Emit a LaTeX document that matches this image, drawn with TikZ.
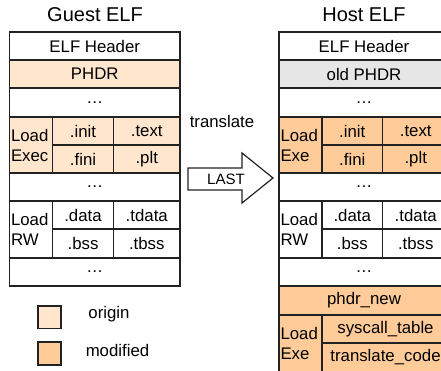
\documentclass[tikz,border=0pt]{standalone}
\usepackage{fontspec}
\setmainfont{Liberation Sans}
\definecolor{origc}{HTML}{FFE6CC}
\definecolor{modc}{HTML}{FFCC99}
\definecolor{oldc}{HTML}{E6E6E6}
\definecolor{linec}{HTML}{222222}
\newcommand\cellx[7]{%
  \node[cellst,#6,minimum width={(#4)-(#2)},minimum height={(#5)-(#3)},anchor=north west] (#1) at (#2,#3) {#7};}
\tikzset{
  cellst/.style={draw=linec, line width=1.2pt, inner sep=0pt, outer sep=0pt, font=\fontsize{16.8}{20}\selectfont},
  orig/.style={fill=origc},
  modf/.style={fill=modc},
  oldf/.style={fill=oldc},
  loadg/.style={align=left, text width=40pt, inner xsep=1.5pt},
  titlest/.style={font=\fontsize{20}{24}\selectfont},
  labst/.style={font=\fontsize{16.8}{20}\selectfont},
  arrowst/.style={draw=linec, line width=1.2pt, fill=white, line join=miter},
  legst/.style={draw=linec, line width=1.6pt, minimum width=23pt, minimum height=22.6pt, inner sep=0pt},
}
\begin{document}
\begin{tikzpicture}[x=1pt,y=-1pt]
\useasboundingbox (0,0) rectangle (441,371);
\clip (0,0) rectangle (441,371);
\fill[white] (0,0) rectangle (441,371);
% titles
\node[titlest] (gtitle) at (95,14.5) {Guest ELF};
\node[titlest] (htitle) at (364,14.5) {Host ELF};
% guest
\cellx{gh}{9.5}{32}{180}{60}{fill=white}{ELF Header}
\cellx{gp}{9.5}{60}{180}{88}{orig}{PHDR}
\cellx{gd1}{9.5}{88}{180}{117}{fill=white}{…}
\cellx{gle}{9.5}{117}{52.5}{173}{orig,loadg}{Load\\Exec}
\cellx{ginit}{52.5}{117}{113.5}{145}{orig}{.init}
\cellx{gtext}{113.5}{117}{180}{145}{orig}{.text}
\cellx{gfini}{52.5}{145}{113.5}{173}{orig}{.fini}
\cellx{gplt}{113.5}{145}{180}{173}{orig}{.plt}
\cellx{gd2}{9.5}{173}{180}{201}{fill=white}{…}
\cellx{glr}{9.5}{201}{52.5}{258}{fill=white,loadg}{Load\\RW}
\cellx{gdata}{52.5}{201}{113.5}{229}{fill=white}{.data}
\cellx{gtdata}{113.5}{201}{180}{229}{fill=white}{.tdata}
\cellx{gbss}{52.5}{229}{113.5}{258}{fill=white}{.bss}
\cellx{gtbss}{113.5}{229}{180}{258}{fill=white}{.tbss}
\cellx{gd3}{9.5}{258}{180}{286}{fill=white}{…}
% host
\cellx{hh}{279}{32}{449}{60}{fill=white}{ELF Header}
\cellx{hp}{279}{60}{449}{88}{oldf}{old PHDR}
\cellx{hd1}{279}{88}{449}{117}{fill=white}{…}
\cellx{hle}{279}{117}{322}{173}{modf,loadg}{Load\\Exe}
\cellx{hinit}{322}{117}{382.5}{145}{modf}{.init}
\cellx{htext}{382.5}{117}{449}{145}{modf}{.text}
\cellx{hfini}{322}{145}{382.5}{173}{modf}{.fini}
\cellx{hplt}{382.5}{145}{449}{173}{modf}{.plt}
\cellx{hd2}{279}{173}{449}{201}{fill=white}{…}
\cellx{hlr}{279}{201}{322}{258}{fill=white,loadg}{Load\\RW}
\cellx{hdata}{322}{201}{382.5}{229}{fill=white}{.data}
\cellx{htdata}{382.5}{201}{449}{229}{fill=white}{.tdata}
\cellx{hbss}{322}{229}{382.5}{258}{fill=white}{.bss}
\cellx{htbss}{382.5}{229}{449}{258}{fill=white}{.tbss}
\cellx{hd3}{279}{258}{449}{286}{fill=white}{…}
\cellx{hpn}{279}{286}{449}{315}{modf}{phdr\_new}
\cellx{hle2}{279}{315}{322}{372}{modf,loadg}{Load\\Exe}
\cellx{hsys}{322}{315}{449}{343}{modf}{syscall\_table}
\cellx{htc}{322}{343}{449}{372}{modf}{translate\_code}
% translate arrow
\node[labst] (tr) at (222,121) {translate};
\draw[arrowst] (188,168) -- (242,168) -- (242,153) -- (273,178) -- (242,203) -- (242,190) -- (188,190) -- cycle;
\node[font=\fontsize{15}{18}\selectfont] (last) at (226,179) {LAST};
% legend
\node[legst, fill=origc] (lo) at (49.3,317) {};
\node[legst, fill=modc] (lm) at (49.3,353.5) {};
\node[labst] (lot) at (109,314) {origin};
\node[labst] (lmt) at (117.5,350.7) {modified};
\end{tikzpicture}
\end{document}
